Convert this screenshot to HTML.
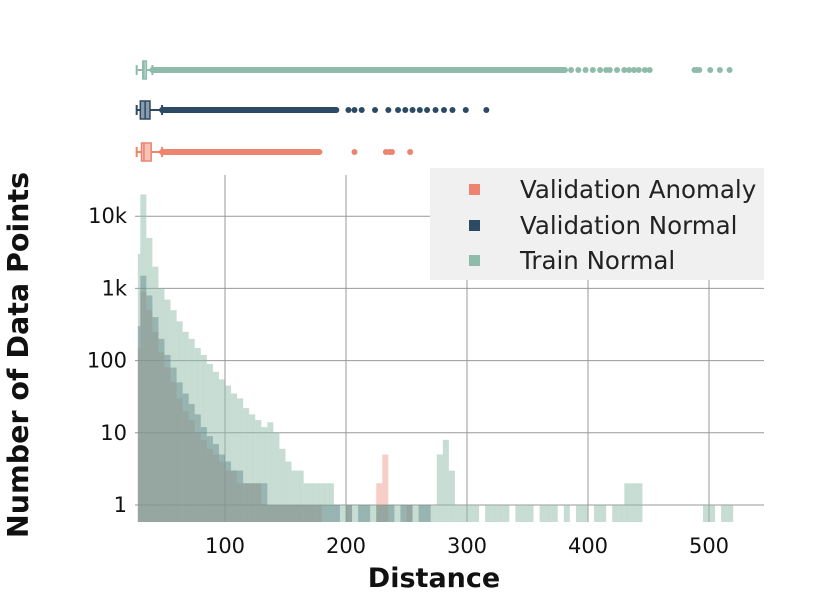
<!DOCTYPE html>
<html><head><meta charset="utf-8"><style>
body{margin:0;background:#fff;}
svg{display:block;font-family:"DejaVu Sans","Liberation Sans",sans-serif;}
</style></head><body>
<svg id="chart" width="830" height="598" viewBox="0 0 830 598"></svg>
<script>
const binStart = 25, binWidth = 5;
const trainNormal = [3000,20000,5000,2000,1000,700,500,350,250,200,150,120,90,70,55,45,35,30,22,18,15,12,14,10,6,4,3,3,2,2,2,2,2,1,1,1,1,1,1,1,1,1,1,1,1,1,1,1,1,1,5,8,3,1,1,1,1,0,1,1,1,1,0,1,1,1,0,1,1,1,0,1,0,1,1,0,1,1,0,1,1,2,2,2,0,0,0,0,0,0,0,0,0,0,1,1,0,1,1,0];
const valNormal = [300,1500,800,400,200,120,80,50,35,25,18,12,9,7,5,4,3,3,2,2,2,2,1,1,1,1,1,1,1,1,1,1,1,1,0,1,0,1,1,0,1,1,1,0,1,1,0,1,1,0];
const valAnomaly = [150,900,500,250,130,80,50,30,20,15,10,8,6,5,4,3,3,2,2,2,2,1,1,1,1,1,1,1,1,1,1,0,0,0,0,1,0,0,0,0,2,5,0,0,0,1];
const boxTrain = {lo:27,q1:32,med:33,q3:35,hi:40,denseEnd:381,out:[386,392,398,404,410,415,418,424,430,434,438,442,447,451,488,490,492,501,509,517]};
const boxVal = {lo:27,q1:30,med:34,q3:38,hi:48,denseEnd:192,out:[202,207,213,224,235,243,249,255,261,267,274,281,288,299,316]};
const boxAnom = {lo:27,q1:31,med:33,q3:39,hi:48,denseEnd:178,out:[207,233,236,238,253]};
const xTicks = [100,200,300,400,500];
const yTicks = [1,10,100,1000,10000];
const yTickLabels = ["1","10","100","1k","10k"];

const X0=135,X1=764,Y0=175,Y1=522;
const xs = v => 104 + v*1.21;
const ys = v => 505 - Math.log10(v)*72.2;
const svg = document.getElementById('chart');
const NS='http://www.w3.org/2000/svg';
function mk(tag, attrs, parent){const e=document.createElementNS(NS,tag);for(const k in attrs)e.setAttribute(k,attrs[k]);(parent||svg).appendChild(e);return e;}

xTicks.forEach((t,i)=>{
  const l=mk('line',{x1:xs(t),x2:xs(t),y1:Y0,y2:Y1,stroke:'#999','stroke-width':1});
  
  
  const tx=mk('text',{x:xs(t),y:553,'text-anchor':'middle','font-size':21,fill:'#111'});
  tx.textContent=t;
  
  
});
yTicks.forEach((t,i)=>{
  const l=mk('line',{x1:X0,x2:X1,y1:ys(t),y2:ys(t),stroke:'#999','stroke-width':1});
  
  
  const tx=mk('text',{x:127,y:ys(t)+7,'text-anchor':'end','font-size':21,fill:'#111'});
  tx.textContent=yTickLabels[i];
  
  
});

function hist(data,color,op,name){
  const g=mk('g',{fill:color,'fill-opacity':op});
  
  
  data.forEach((v,i)=>{
    if(!v) return;
    const a=Math.max(binStart+i*binWidth,28), b=binStart+(i+1)*binWidth;
    const r=mk('rect',{x:xs(a),y:ys(v),width:xs(b)-xs(a),height:Y1-ys(v)},g);
    
    
  });
}
hist(valAnomaly,'#ec8470',0.4,'validation-anomaly-histogram');
hist(valNormal,'#2c4a63',0.45,'validation-normal-histogram');
hist(trainNormal,'#8fbcaa',0.5,'train-normal-histogram');

function box(b,y,color,fillc,name){
  const g=mk('g',{});
  
  
  mk('line',{x1:xs(b.lo),x2:xs(b.hi),y1:y,y2:y,stroke:color,'stroke-width':2},g);
  mk('line',{x1:xs(b.lo),x2:xs(b.lo),y1:y-5,y2:y+5,stroke:color,'stroke-width':2},g);
  mk('line',{x1:xs(b.hi),x2:xs(b.hi),y1:y-5,y2:y+5,stroke:color,'stroke-width':2},g);
  mk('rect',{x:xs(b.q1),y:y-9,width:xs(b.q3)-xs(b.q1),height:18,fill:fillc,stroke:color,'stroke-width':1.5},g);
  mk('line',{x1:xs(b.med),x2:xs(b.med),y1:y-9,y2:y+9,stroke:color,'stroke-width':1.5},g);
  mk('line',{x1:xs(b.hi),x2:xs(b.denseEnd),y1:y,y2:y,stroke:color,'stroke-width':6,'stroke-linecap':'round'},g);
  b.out.forEach(v=>{
    const c=mk('circle',{cx:xs(v),cy:y,r:3,fill:color},g);
    
    
  });
}
box(boxTrain,70,'#8fbcaa','#c7ded5','train-normal-boxplot');
box(boxVal,110,'#2c4a63','#8b9cac','validation-normal-boxplot');
box(boxAnom,152,'#ec8470','#f7c3b7','validation-anomaly-boxplot');

const lg=mk('g',{});


mk('rect',{x:430,y:168,width:334,height:112,fill:'#f0f0f0'},lg);
[['Validation Anomaly','#ec8470',190],['Validation Normal','#2c4a63',226],['Train Normal','#8fbcaa',261]].forEach(([t,c,y])=>{
  const e=mk('g',{},lg);
  
  
  mk('rect',{x:469,y:y-6,width:11,height:11,fill:c},e);
  const tx=mk('text',{x:520,y:y+8,'font-size':24.5,fill:'#222'},e);
  tx.textContent=t;
});

const xt=mk('text',{x:434,y:587,'text-anchor':'middle','font-size':27,'font-weight':'bold',fill:'#111'});
xt.textContent='Distance';


const yt=mk('text',{x:0,y:0,'text-anchor':'middle','font-size':28.5,'font-weight':'bold',fill:'#111',transform:'translate(28,355) rotate(-90)'});
yt.textContent='Number of Data Points';


</script>
</body></html>
